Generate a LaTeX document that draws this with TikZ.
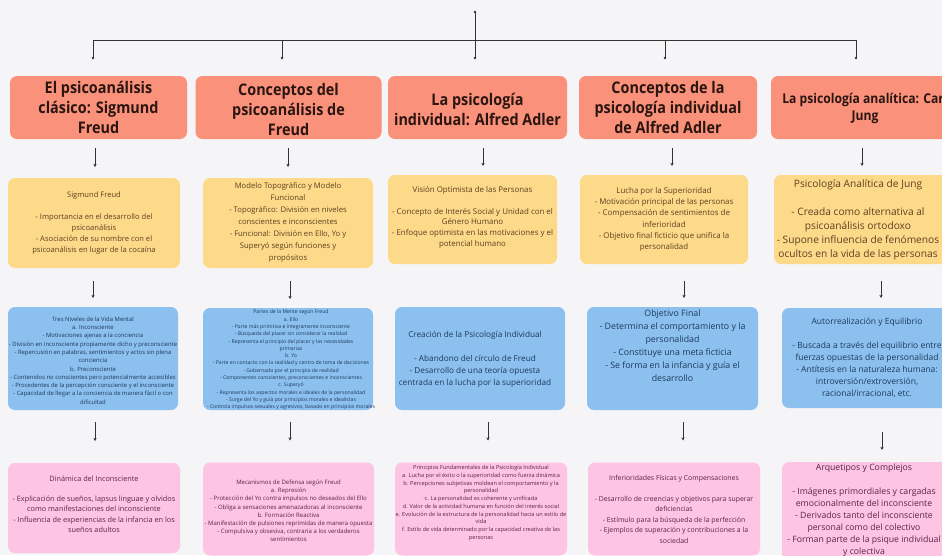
\documentclass[tikz,border=0pt]{standalone}
\usepackage{fontspec}
\setmainfont{Open Sans}
\newfontfamily\hfont[FakeStretch=0.9]{Open Sans}
\usetikzlibrary{arrows.meta}
\definecolor{bg}{HTML}{F5F4F6}
\definecolor{hdr}{HTML}{FA917A}
\definecolor{yel}{HTML}{FDD98A}
\definecolor{blu}{HTML}{8CC0EE}
\definecolor{pnk}{HTML}{FDC4E3}
\definecolor{htxt}{HTML}{2A1510}
\definecolor{ytxt}{HTML}{5E4020}
\definecolor{btxt}{HTML}{1C3A5E}
\definecolor{ptxt}{HTML}{5A2548}
\definecolor{lin}{HTML}{333333}
\tikzset{
  boxbase/.style={rounded corners=7pt, inner sep=0pt, outer sep=0pt, draw=none},
  hbox/.style={boxbase, fill=hdr},
  ybox/.style={boxbase, fill=yel},
  bbox/.style={boxbase, fill=blu},
  pbox/.style={boxbase, fill=pnk},
  txt/.style={align=center, inner sep=0pt, outer sep=0pt},
  htx/.style={txt, text=htxt, font=\hfont\bfseries\fontsize{16}{20}\selectfont},
  ytx/.style={txt, text=ytxt},
  btx/.style={txt, text=btxt},
  ptx/.style={txt, text=ptxt},
  arr/.style={draw=lin, line width=0.7pt, -{Stealth[length=3.2pt,width=3.2pt]}},
  bus/.style={draw=lin, line width=0.8pt},
}
\begin{document}
\begin{tikzpicture}[x=1pt,y=-1pt]
\fill[bg] (0,0) rectangle (942,555);
\useasboundingbox (0,0) rectangle (942,555);

% ---------- top connectors ----------
\coordinate (root) at (475,12);
\coordinate (busL) at (93,40);
\coordinate (busR) at (856,40);
\coordinate (d1) at (93,58);
\coordinate (d2) at (282,58);
\coordinate (d3) at (475,58);
\coordinate (d4) at (665,58);
\coordinate (d5) at (856,58);
\draw[bus] (root) -- (root |- busL);
\draw[bus] (busL) -- (busR);
\foreach \d in {d1,d2,d3,d4,d5}{
  \draw[bus] (\d |- busL) -- (\d);
  \fill[lin] (\d) circle (1.4pt);
}
\fill[lin] (root) circle (1.4pt);

% ---------- headers ----------
\node[hbox, minimum width=177pt, minimum height=63pt] (h1) at (98.5,107.5) {};
\node[hbox, minimum width=186pt, minimum height=63pt] (h2) at (288.5,107.5) {};
\node[hbox, minimum width=179pt, minimum height=63pt] (h3) at (477.5,107.5) {};
\node[hbox, minimum width=178pt, minimum height=63pt] (h4) at (668,107.5) {};
\node[hbox, minimum width=190pt, minimum height=63pt] (h5) at (866,107.5) {};

\node[htx] at (h1.center) {El psicoanálisis\\clásico: Sigmund\\Freud};
\node[htx] at ([yshift=-2pt]h2.center) {Conceptos del\\psicoanálisis de\\Freud};
\node[htx] at ([yshift=-2pt]h3.center) {La psicología\\individual: Alfred Adler};
\node[htx] at (h4.center) {Conceptos de la\\psicología individual\\de Alfred Adler};
\node[txt, text=htxt, font=\hfont\bfseries\fontsize{13.5}{17}\selectfont] at ([xshift=-1pt,yshift=-1pt]h5.center) {La psicología analítica: Carl\\Jung};

% ---------- yellow row ----------
\node[ybox, minimum width=172pt, minimum height=90pt] (y1) at (94,223) {};
\node[ybox, minimum width=170pt, minimum height=90pt] (y2) at (288,223) {};
\node[ybox, minimum width=169pt, minimum height=89pt] (y3) at (472.5,219.5) {};
\node[ybox, minimum width=168pt, minimum height=89pt] (y4) at (664,219.5) {};
\node[ybox, minimum width=180pt, minimum height=89pt] (y5) at (864,219.5) {};

\node[ytx, font=\fontsize{7.6}{11}\selectfont] at (y1.center)
 {Sigmund Freud\\\mbox{}\\- Importancia en el desarrollo del\\psicoanálisis\\- Asociación de su nombre con el\\psicoanálisis en lugar de la cocaína};
\node[ytx, font=\fontsize{7.7}{12}\selectfont] at ([yshift=1pt]y2.center)
 {Modelo Topográfico y Modelo\\Funcional\\- Topográfico: División en niveles\\conscientes e inconscientes\\- Funcional: División en Ello, Yo y\\Superyó según funciones y\\propósitos};
\node[ytx, font=\fontsize{7.9}{10.8}\selectfont] at ([yshift=2pt]y3.center)
 {Visión Optimista de las Personas\\\mbox{}\\- Concepto de Interés Social y Unidad con el\\Género Humano\\- Enfoque optimista en las motivaciones y el\\potencial humano};
\node[ytx, font=\fontsize{7.9}{11.3}\selectfont] at (y4.center)
 {Lucha por la Superioridad\\- Motivación principal de las personas\\- Compensación de sentimientos de\\inferioridad\\- Objetivo final ficticio que unifica la\\personalidad};
\node[ytx, font=\fontsize{10.2}{14}\selectfont] at ([xshift=-6pt]y5.center)
 {Psicología Analítica de Jung\\\mbox{}\\- Creada como alternativa al\\psicoanálisis ortodoxo\\- Supone influencia de fenómenos\\ocultos en la vida de las personas};

% ---------- blue row ----------
\node[bbox, minimum width=170pt, minimum height=103pt] (b1) at (93,358.5) {};
\node[bbox, minimum width=170pt, minimum height=102pt] (b2) at (288,359) {};
\node[bbox, minimum width=170pt, minimum height=103pt] (b3) at (480,358.5) {};
\node[bbox, minimum width=171pt, minimum height=103pt] (b4) at (672.5,358.5) {};
\node[bbox, minimum width=180pt, minimum height=100pt] (b5) at (872,358) {};

\node[btx, font=\fontsize{5.9}{8.3}\selectfont] at ([yshift=-2pt]b1.center)
 {Tres Niveles de la Vida Mental\\a. Inconsciente\\- Motivaciones ajenas a la conciencia\\- División en inconsciente propiamente dicho y preconsciente\\- Repercusión en palabras, sentimientos y actos sin plena\\conciencia\\b. Preconsciente\\- Contenidos no conscientes pero potencialmente accesibles\\- Procedentes de la percepción consciente y el inconsciente\\- Capacidad de llegar a la conciencia de manera fácil o con\\dificultad};
\node[btx, font=\fontsize{5.1}{7.3}\selectfont] at ([xshift=3pt,yshift=-1pt]b2.center)
 {Partes de la Mente según Freud\\a. Ello\\- Parte más primitiva e íntegramente inconsciente\\- Búsqueda del placer sin considerar la realidad\\- Representa el principio del placer y las necesidades\\primarias\\b. Yo\\- Parte en contacto con la realidad y centro de toma de decisiones\\- Gobernado por el principio de realidad\\- Componentes conscientes, preconscientes e inconscientes\\c. Superyó\\- Representa los aspectos morales e ideales de la personalidad\\- Surge del Yo y guía por principios morales e idealistas\\- Controla impulsos sexuales y agresivos, basado en principios morales};
\node[btx, font=\fontsize{8.2}{12}\selectfont] at ([xshift=-5pt,yshift=-1pt]b3.center)
 {Creación de la Psicología Individual\\\mbox{}\\- Abandono del círculo de Freud\\- Desarrollo de una teoría opuesta\\centrada en la lucha por la superioridad};
\node[btx, font=\fontsize{8.8}{13}\selectfont] at ([xshift=0pt,yshift=13pt]b4.center)
 {Objetivo Final\\- Determina el comportamiento y la\\personalidad\\- Constituye una meta ficticia\\- Se forma en la infancia y guía el\\desarrollo};
\node[btx, font=\fontsize{8.5}{12}\selectfont] at ([xshift=-5pt,yshift=0pt]b5.center)
 {Autorrealización y Equilibrio\\\mbox{}\\- Buscada a través del equilibrio entre\\fuerzas opuestas de la personalidad\\- Antítesis en la naturaleza humana:\\introversión/extroversión,\\racional/irracional, etc.};

% ---------- pink row ----------
\node[pbox, minimum width=172pt, minimum height=90pt] (p1) at (94,508) {};
\node[pbox, minimum width=171pt, minimum height=93pt] (p2) at (288.5,509) {};
\node[pbox, minimum width=172pt, minimum height=93pt] (p3) at (481,509) {};
\node[pbox, minimum width=172pt, minimum height=93pt] (p4) at (674,509) {};
\node[pbox, minimum width=180pt, minimum height=100pt] (p5) at (872,512) {};

\node[ptx, font=\fontsize{7.3}{10.3}\selectfont] at ([yshift=4pt]p1.center)
 {Dinámica del Inconsciente\\\mbox{}\\- Explicación de sueños, lapsus linguae y olvidos\\como manifestaciones del inconsciente\\- Influencia de experiencias de la infancia en los\\sueños adultos};
\node[ptx, font=\fontsize{6}{8.2}\selectfont] at ([yshift=-2pt]p2.center)
 {Mecanismos de Defensa según Freud\\a. Represión\\- Protección del Yo contra impulsos no deseados del Ello\\- Obliga a sensaciones amenazadoras al inconsciente\\b. Formación Reactiva\\- Manifestación de pulsiones reprimidas de manera opuesta\\- Compulsiva y obsesiva, contraria a los verdaderos\\sentimientos};
\node[ptx, font=\fontsize{5.6}{7.7}\selectfont] at ([yshift=6pt]p3.center)
 {Principios Fundamentales de la Psicología Individual\\a. Lucha por el éxito o la superioridad como fuerza dinámica\\b. Percepciones subjetivas moldean el comportamiento y la\\personalidad\\c. La personalidad es coherente y unificada\\d. Valor de la actividad humana en función del interés social\\e. Evolución de la estructura de la personalidad hacia un estilo de\\vida\\f. Estilo de vida determinado por la capacidad creativa de las\\personas};
\node[ptx, font=\fontsize{6.9}{10.5}\selectfont] at ([yshift=0pt]p4.center)
 {Inferioridades Físicas y Compensaciones\\\mbox{}\\- Desarrollo de creencias y objetivos para superar\\deficiencias\\- Estímulo para la búsqueda de la perfección\\- Ejemplos de superación y contribuciones a la\\sociedad};
\node[ptx, font=\fontsize{8.7}{12}\selectfont] at ([xshift=-8pt,yshift=2pt]p5.center)
 {Arquetipos y Complejos\\\mbox{}\\- Imágenes primordiales y cargadas\\emocionalmente del inconsciente\\- Derivados tanto del inconsciente\\personal como del colectivo\\- Forman parte de la psique individual\\y colectiva};

% ---------- short arrows ----------
\coordinate (r1a) at (95,0);  \coordinate (r1b) at (288,0); \coordinate (r1c) at (483,0);
\coordinate (r1d) at (672,0); \coordinate (r1e) at (862,0);
\draw[arr, shorten <=9pt, shorten >=11pt] (h1.south -| r1a) -- (y1.north -| r1a);
\draw[arr, shorten <=9pt, shorten >=11pt] (h2.south -| r1b) -- (y2.north -| r1b);
\draw[arr, shorten <=9pt, shorten >=9pt] (h3.south -| r1c) -- (y3.north -| r1c);
\draw[arr, shorten <=9pt, shorten >=9pt] (h4.south -| r1d) -- (y4.north -| r1d);
\draw[arr, shorten <=9pt, shorten >=9pt] (h5.south -| r1e) -- (y5.north -| r1e);

\coordinate (r2a) at (93,0);  \coordinate (r2b) at (290,0);
\coordinate (r2d) at (684,0); \coordinate (r2e) at (881,0);
\draw[arr, shorten <=13pt, shorten >=9pt] (y1.south -| r2a) -- (b1.north -| r2a);
\draw[arr, shorten <=13pt, shorten >=9pt] (y2.south -| r2b) -- (b2.north -| r2b);
\draw[arr, shorten <=17pt, shorten >=9pt] (y4.south -| r2d) -- (b4.north -| r2d);
\draw[arr, shorten <=17pt, shorten >=10pt] (y5.south -| r2e) -- (b5.north -| r2e);

\coordinate (r3a) at (95,0);  \coordinate (r3b) at (290,0); \coordinate (r3c) at (488,0);
\coordinate (r3d) at (683,0); \coordinate (r3e) at (882,0);
\draw[arr, shorten <=12pt, shorten >=22pt] (b1.south -| r3a) -- (p1.north -| r3a);
\draw[arr, shorten <=12pt, shorten >=22pt] (b2.south -| r3b) -- (p2.north -| r3b);
\draw[arr, shorten <=12pt, shorten >=22pt] (b3.south -| r3c) -- (p3.north -| r3c);
\draw[arr, shorten <=12pt, shorten >=22pt] (b4.south -| r3d) -- (p4.north -| r3d);
\draw[arr, shorten <=24pt, shorten >=12pt] (b5.south -| r3e) -- (p5.north -| r3e);
\end{tikzpicture}
\end{document}
